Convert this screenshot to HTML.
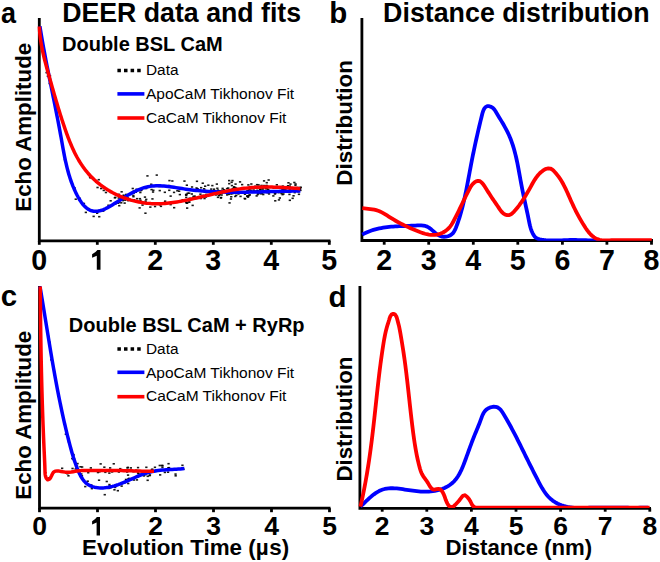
<!DOCTYPE html>
<html><head><meta charset="utf-8"><title>DEER figure</title>
<style>
html,body{margin:0;padding:0;background:#fff;}
body{width:660px;height:562px;overflow:hidden;font-family:"Liberation Sans",sans-serif;}
svg{display:block;}
svg text{font-family:"Liberation Sans",sans-serif;}
.tk1{font-weight:bold;font-size:28.6px;}
.tk2{font-weight:bold;font-size:26.5px;}
</style></head><body>
<svg width="660" height="562" viewBox="0 0 660 562">
<rect width="660" height="562" fill="#fff"/>
<g stroke="#000" stroke-width="2.8" fill="none" stroke-linecap="butt">
<path d="M39.3,18 V240.8 H330.5"/>
<line x1="39.3" y1="240.8" x2="39.3" y2="244.8"/><line x1="97.3" y1="240.8" x2="97.3" y2="244.8"/><line x1="155.3" y1="240.8" x2="155.3" y2="244.8"/><line x1="213.3" y1="240.8" x2="213.3" y2="244.8"/><line x1="271.3" y1="240.8" x2="271.3" y2="244.8"/><line x1="329.3" y1="240.8" x2="329.3" y2="244.8"/>
<path d="M361.9,18 V240.5 H653"/>
<line x1="384.2" y1="240.5" x2="384.2" y2="244.7"/><line x1="428.7" y1="240.5" x2="428.7" y2="244.7"/><line x1="473.3" y1="240.5" x2="473.3" y2="244.7"/><line x1="517.8" y1="240.5" x2="517.8" y2="244.7"/><line x1="562.4" y1="240.5" x2="562.4" y2="244.7"/><line x1="606.9" y1="240.5" x2="606.9" y2="244.7"/><line x1="651.5" y1="240.5" x2="651.5" y2="244.7"/>
<path d="M39.5,286 V508.2 H330.5"/>
<line x1="39.5" y1="508.2" x2="39.5" y2="512.2"/><line x1="97.5" y1="508.2" x2="97.5" y2="512.2"/><line x1="155.5" y1="508.2" x2="155.5" y2="512.2"/><line x1="213.5" y1="508.2" x2="213.5" y2="512.2"/><line x1="271.5" y1="508.2" x2="271.5" y2="512.2"/><line x1="329.5" y1="508.2" x2="329.5" y2="512.2"/>
<path d="M359.9,286 V508.3 H651"/>
<line x1="382.2" y1="508.3" x2="382.2" y2="511.7"/><line x1="426.8" y1="508.3" x2="426.8" y2="511.7"/><line x1="471.4" y1="508.3" x2="471.4" y2="511.7"/><line x1="516.0" y1="508.3" x2="516.0" y2="511.7"/><line x1="560.6" y1="508.3" x2="560.6" y2="511.7"/><line x1="605.2" y1="508.3" x2="605.2" y2="511.7"/><line x1="649.8" y1="508.3" x2="649.8" y2="511.7"/>
</g>
<g fill="#000" fill-opacity="0.9"><rect x="42.4" y="47.2" width="2.3" height="1.6"/><rect x="48.0" y="75.2" width="2.3" height="1.6"/><rect x="48.6" y="82.8" width="2.3" height="1.6"/><rect x="48.8" y="82.2" width="2.3" height="1.6"/><rect x="53.2" y="102.6" width="2.3" height="1.6"/><rect x="59.5" y="134.6" width="2.3" height="1.6"/><rect x="63.7" y="158.7" width="2.3" height="1.6"/><rect x="73.0" y="188.3" width="2.3" height="1.6"/><rect x="73.5" y="187.2" width="2.3" height="1.6"/><rect x="74.6" y="198.4" width="2.3" height="1.6"/><rect x="78.4" y="197.5" width="2.3" height="1.6"/><rect x="78.5" y="198.8" width="2.3" height="1.6"/><rect x="82.8" y="202.7" width="2.3" height="1.6"/><rect x="84.7" y="211.6" width="2.3" height="1.6"/><rect x="90.1" y="210.0" width="2.3" height="1.6"/><rect x="92.5" y="215.6" width="2.3" height="1.6"/><rect x="96.0" y="212.4" width="2.3" height="1.6"/><rect x="97.8" y="209.9" width="2.3" height="1.6"/><rect x="98.1" y="215.9" width="2.3" height="1.6"/><rect x="102.1" y="210.3" width="2.3" height="1.6"/><rect x="107.3" y="204.5" width="2.3" height="1.6"/><rect x="109.5" y="200.0" width="2.3" height="1.6"/><rect x="114.2" y="196.6" width="2.3" height="1.6"/><rect x="114.2" y="203.3" width="2.3" height="1.6"/><rect x="116.7" y="202.3" width="2.3" height="1.6"/><rect x="117.6" y="197.2" width="2.3" height="1.6"/><rect x="117.5" y="201.1" width="2.3" height="1.6"/><rect x="117.8" y="201.8" width="2.3" height="1.6"/><rect x="117.8" y="193.6" width="2.3" height="1.6"/><rect x="118.1" y="204.9" width="2.3" height="1.6"/><rect x="120.1" y="202.0" width="2.3" height="1.6"/><rect x="120.5" y="191.0" width="2.3" height="1.6"/><rect x="121.7" y="199.8" width="2.3" height="1.6"/><rect x="121.8" y="196.8" width="2.3" height="1.6"/><rect x="122.5" y="194.4" width="2.3" height="1.6"/><rect x="122.4" y="195.4" width="2.3" height="1.6"/><rect x="123.5" y="202.3" width="2.3" height="1.6"/><rect x="125.0" y="193.7" width="2.3" height="1.6"/><rect x="127.0" y="199.8" width="2.3" height="1.6"/><rect x="131.6" y="187.7" width="2.3" height="1.6"/><rect x="132.3" y="195.9" width="2.3" height="1.6"/><rect x="132.2" y="194.7" width="2.3" height="1.6"/><rect x="132.7" y="190.3" width="2.3" height="1.6"/><rect x="132.7" y="192.2" width="2.3" height="1.6"/><rect x="133.0" y="199.0" width="2.3" height="1.6"/><rect x="134.7" y="191.4" width="2.3" height="1.6"/><rect x="135.4" y="188.5" width="2.3" height="1.6"/><rect x="139.2" y="189.8" width="2.3" height="1.6"/><rect x="140.1" y="189.5" width="2.3" height="1.6"/><rect x="140.7" y="188.6" width="2.3" height="1.6"/><rect x="143.8" y="196.3" width="2.3" height="1.6"/><rect x="145.0" y="187.7" width="2.3" height="1.6"/><rect x="146.3" y="175.1" width="2.3" height="1.6"/><rect x="150.1" y="183.5" width="2.3" height="1.6"/><rect x="150.4" y="188.8" width="2.3" height="1.6"/><rect x="151.9" y="191.2" width="2.3" height="1.6"/><rect x="152.2" y="189.5" width="2.3" height="1.6"/><rect x="155.6" y="174.3" width="2.3" height="1.6"/><rect x="158.3" y="185.7" width="2.3" height="1.6"/><rect x="158.6" y="189.8" width="2.3" height="1.6"/><rect x="158.7" y="184.7" width="2.3" height="1.6"/><rect x="163.7" y="191.5" width="2.3" height="1.6"/><rect x="168.1" y="189.5" width="2.3" height="1.6"/><rect x="168.0" y="184.8" width="2.3" height="1.6"/><rect x="168.3" y="179.8" width="2.3" height="1.6"/><rect x="171.2" y="180.2" width="2.3" height="1.6"/><rect x="172.9" y="191.6" width="2.3" height="1.6"/><rect x="176.2" y="190.0" width="2.3" height="1.6"/><rect x="178.0" y="190.4" width="2.3" height="1.6"/><rect x="178.7" y="193.8" width="2.3" height="1.6"/><rect x="183.3" y="180.3" width="2.3" height="1.6"/><rect x="184.9" y="194.0" width="2.3" height="1.6"/><rect x="185.1" y="194.4" width="2.3" height="1.6"/><rect x="185.7" y="184.4" width="2.3" height="1.6"/><rect x="190.9" y="186.2" width="2.3" height="1.6"/><rect x="190.7" y="193.2" width="2.3" height="1.6"/><rect x="195.8" y="180.5" width="2.3" height="1.6"/><rect x="196.7" y="188.2" width="2.3" height="1.6"/><rect x="198.7" y="190.0" width="2.3" height="1.6"/><rect x="199.3" y="193.4" width="2.3" height="1.6"/><rect x="199.6" y="196.0" width="2.3" height="1.6"/><rect x="200.2" y="196.6" width="2.3" height="1.6"/><rect x="201.6" y="182.4" width="2.3" height="1.6"/><rect x="202.3" y="194.6" width="2.3" height="1.6"/><rect x="203.0" y="188.0" width="2.3" height="1.6"/><rect x="203.4" y="191.3" width="2.3" height="1.6"/><rect x="203.5" y="189.6" width="2.3" height="1.6"/><rect x="204.0" y="185.4" width="2.3" height="1.6"/><rect x="205.2" y="194.5" width="2.3" height="1.6"/><rect x="205.2" y="193.7" width="2.3" height="1.6"/><rect x="207.2" y="184.4" width="2.3" height="1.6"/><rect x="210.1" y="188.3" width="2.3" height="1.6"/><rect x="211.2" y="184.8" width="2.3" height="1.6"/><rect x="211.9" y="190.5" width="2.3" height="1.6"/><rect x="212.9" y="188.4" width="2.3" height="1.6"/><rect x="215.7" y="183.3" width="2.3" height="1.6"/><rect x="217.0" y="192.3" width="2.3" height="1.6"/><rect x="216.8" y="189.3" width="2.3" height="1.6"/><rect x="216.8" y="196.5" width="2.3" height="1.6"/><rect x="218.8" y="193.8" width="2.3" height="1.6"/><rect x="218.8" y="190.0" width="2.3" height="1.6"/><rect x="221.2" y="189.4" width="2.3" height="1.6"/><rect x="221.5" y="187.6" width="2.3" height="1.6"/><rect x="226.0" y="194.1" width="2.3" height="1.6"/><rect x="225.9" y="187.8" width="2.3" height="1.6"/><rect x="226.1" y="191.0" width="2.3" height="1.6"/><rect x="227.1" y="187.3" width="2.3" height="1.6"/><rect x="227.3" y="190.0" width="2.3" height="1.6"/><rect x="228.4" y="202.1" width="2.3" height="1.6"/><rect x="230.1" y="196.0" width="2.3" height="1.6"/><rect x="229.8" y="198.2" width="2.3" height="1.6"/><rect x="230.0" y="193.1" width="2.3" height="1.6"/><rect x="230.9" y="192.7" width="2.3" height="1.6"/><rect x="231.1" y="188.6" width="2.3" height="1.6"/><rect x="231.7" y="192.6" width="2.3" height="1.6"/><rect x="232.6" y="192.2" width="2.3" height="1.6"/><rect x="233.0" y="186.7" width="2.3" height="1.6"/><rect x="233.0" y="186.1" width="2.3" height="1.6"/><rect x="233.1" y="188.0" width="2.3" height="1.6"/><rect x="233.8" y="192.5" width="2.3" height="1.6"/><rect x="233.6" y="188.5" width="2.3" height="1.6"/><rect x="233.8" y="191.0" width="2.3" height="1.6"/><rect x="233.8" y="190.2" width="2.3" height="1.6"/><rect x="235.1" y="194.6" width="2.3" height="1.6"/><rect x="235.7" y="191.0" width="2.3" height="1.6"/><rect x="235.8" y="192.1" width="2.3" height="1.6"/><rect x="237.3" y="193.1" width="2.3" height="1.6"/><rect x="239.4" y="195.6" width="2.3" height="1.6"/><rect x="241.0" y="183.8" width="2.3" height="1.6"/><rect x="241.4" y="191.7" width="2.3" height="1.6"/><rect x="242.7" y="187.2" width="2.3" height="1.6"/><rect x="243.5" y="197.7" width="2.3" height="1.6"/><rect x="243.8" y="193.4" width="2.3" height="1.6"/><rect x="244.1" y="192.1" width="2.3" height="1.6"/><rect x="244.0" y="198.0" width="2.3" height="1.6"/><rect x="246.0" y="195.2" width="2.3" height="1.6"/><rect x="246.0" y="190.2" width="2.3" height="1.6"/><rect x="246.3" y="195.6" width="2.3" height="1.6"/><rect x="246.9" y="196.3" width="2.3" height="1.6"/><rect x="247.1" y="190.5" width="2.3" height="1.6"/><rect x="247.1" y="195.3" width="2.3" height="1.6"/><rect x="247.7" y="191.4" width="2.3" height="1.6"/><rect x="247.9" y="194.5" width="2.3" height="1.6"/><rect x="247.9" y="191.4" width="2.3" height="1.6"/><rect x="247.7" y="190.3" width="2.3" height="1.6"/><rect x="248.7" y="194.1" width="2.3" height="1.6"/><rect x="250.0" y="189.5" width="2.3" height="1.6"/><rect x="250.2" y="183.2" width="2.3" height="1.6"/><rect x="253.6" y="190.3" width="2.3" height="1.6"/><rect x="254.1" y="185.5" width="2.3" height="1.6"/><rect x="255.8" y="190.4" width="2.3" height="1.6"/><rect x="255.9" y="183.9" width="2.3" height="1.6"/><rect x="256.6" y="193.7" width="2.3" height="1.6"/><rect x="257.4" y="184.1" width="2.3" height="1.6"/><rect x="258.3" y="191.2" width="2.3" height="1.6"/><rect x="258.2" y="192.1" width="2.3" height="1.6"/><rect x="258.6" y="185.8" width="2.3" height="1.6"/><rect x="259.3" y="189.1" width="2.3" height="1.6"/><rect x="259.5" y="193.0" width="2.3" height="1.6"/><rect x="260.4" y="184.7" width="2.3" height="1.6"/><rect x="261.0" y="190.8" width="2.3" height="1.6"/><rect x="261.2" y="188.0" width="2.3" height="1.6"/><rect x="262.2" y="190.3" width="2.3" height="1.6"/><rect x="262.9" y="180.1" width="2.3" height="1.6"/><rect x="263.6" y="191.5" width="2.3" height="1.6"/><rect x="264.1" y="185.4" width="2.3" height="1.6"/><rect x="264.4" y="190.8" width="2.3" height="1.6"/><rect x="264.9" y="187.5" width="2.3" height="1.6"/><rect x="265.1" y="188.0" width="2.3" height="1.6"/><rect x="266.1" y="185.5" width="2.3" height="1.6"/><rect x="266.8" y="188.9" width="2.3" height="1.6"/><rect x="268.5" y="191.2" width="2.3" height="1.6"/><rect x="272.2" y="195.1" width="2.3" height="1.6"/><rect x="273.7" y="191.2" width="2.3" height="1.6"/><rect x="273.7" y="193.1" width="2.3" height="1.6"/><rect x="274.1" y="200.0" width="2.3" height="1.6"/><rect x="274.2" y="192.7" width="2.3" height="1.6"/><rect x="275.7" y="190.0" width="2.3" height="1.6"/><rect x="277.6" y="191.6" width="2.3" height="1.6"/><rect x="277.8" y="199.1" width="2.3" height="1.6"/><rect x="278.0" y="187.3" width="2.3" height="1.6"/><rect x="278.1" y="191.6" width="2.3" height="1.6"/><rect x="278.7" y="197.2" width="2.3" height="1.6"/><rect x="279.8" y="190.6" width="2.3" height="1.6"/><rect x="282.3" y="193.2" width="2.3" height="1.6"/><rect x="282.5" y="188.6" width="2.3" height="1.6"/><rect x="288.3" y="187.7" width="2.3" height="1.6"/><rect x="288.3" y="193.6" width="2.3" height="1.6"/><rect x="288.8" y="188.3" width="2.3" height="1.6"/><rect x="288.7" y="199.5" width="2.3" height="1.6"/><rect x="289.3" y="183.3" width="2.3" height="1.6"/><rect x="291.5" y="197.5" width="2.3" height="1.6"/><rect x="292.4" y="195.0" width="2.3" height="1.6"/><rect x="292.9" y="188.5" width="2.3" height="1.6"/><rect x="294.3" y="190.4" width="2.3" height="1.6"/><rect x="294.3" y="184.5" width="2.3" height="1.6"/><rect x="296.5" y="186.7" width="2.3" height="1.6"/><rect x="297.2" y="190.9" width="2.3" height="1.6"/><rect x="42.1" y="51.1" width="2.3" height="1.6"/><rect x="45.4" y="71.8" width="2.3" height="1.6"/><rect x="46.7" y="75.4" width="2.3" height="1.6"/><rect x="48.9" y="75.1" width="2.3" height="1.6"/><rect x="88.9" y="176.4" width="2.3" height="1.6"/><rect x="89.2" y="177.0" width="2.3" height="1.6"/><rect x="89.4" y="175.1" width="2.3" height="1.6"/><rect x="96.4" y="186.7" width="2.3" height="1.6"/><rect x="97.6" y="178.9" width="2.3" height="1.6"/><rect x="98.6" y="183.1" width="2.3" height="1.6"/><rect x="100.0" y="187.7" width="2.3" height="1.6"/><rect x="102.6" y="189.6" width="2.3" height="1.6"/><rect x="102.8" y="186.7" width="2.3" height="1.6"/><rect x="104.8" y="191.7" width="2.3" height="1.6"/><rect x="109.5" y="191.6" width="2.3" height="1.6"/><rect x="112.4" y="192.4" width="2.3" height="1.6"/><rect x="113.7" y="197.0" width="2.3" height="1.6"/><rect x="119.8" y="195.7" width="2.3" height="1.6"/><rect x="124.1" y="197.4" width="2.3" height="1.6"/><rect x="124.1" y="199.4" width="2.3" height="1.6"/><rect x="126.7" y="197.2" width="2.3" height="1.6"/><rect x="129.4" y="193.5" width="2.3" height="1.6"/><rect x="130.7" y="200.2" width="2.3" height="1.6"/><rect x="135.9" y="197.9" width="2.3" height="1.6"/><rect x="136.3" y="200.9" width="2.3" height="1.6"/><rect x="138.5" y="207.1" width="2.3" height="1.6"/><rect x="138.8" y="197.9" width="2.3" height="1.6"/><rect x="139.3" y="199.5" width="2.3" height="1.6"/><rect x="139.2" y="191.7" width="2.3" height="1.6"/><rect x="141.4" y="204.3" width="2.3" height="1.6"/><rect x="142.1" y="202.1" width="2.3" height="1.6"/><rect x="144.3" y="212.4" width="2.3" height="1.6"/><rect x="144.5" y="200.3" width="2.3" height="1.6"/><rect x="145.1" y="198.6" width="2.3" height="1.6"/><rect x="149.2" y="206.3" width="2.3" height="1.6"/><rect x="150.4" y="203.5" width="2.3" height="1.6"/><rect x="150.9" y="202.5" width="2.3" height="1.6"/><rect x="151.3" y="198.1" width="2.3" height="1.6"/><rect x="151.9" y="203.2" width="2.3" height="1.6"/><rect x="153.9" y="205.7" width="2.3" height="1.6"/><rect x="158.8" y="204.0" width="2.3" height="1.6"/><rect x="159.8" y="205.5" width="2.3" height="1.6"/><rect x="164.0" y="200.4" width="2.3" height="1.6"/><rect x="169.5" y="203.8" width="2.3" height="1.6"/><rect x="169.5" y="195.3" width="2.3" height="1.6"/><rect x="173.0" y="206.9" width="2.3" height="1.6"/><rect x="181.5" y="199.0" width="2.3" height="1.6"/><rect x="185.1" y="201.7" width="2.3" height="1.6"/><rect x="185.1" y="196.6" width="2.3" height="1.6"/><rect x="185.4" y="202.0" width="2.3" height="1.6"/><rect x="185.4" y="193.4" width="2.3" height="1.6"/><rect x="186.0" y="207.3" width="2.3" height="1.6"/><rect x="186.0" y="202.4" width="2.3" height="1.6"/><rect x="186.6" y="192.4" width="2.3" height="1.6"/><rect x="187.6" y="201.2" width="2.3" height="1.6"/><rect x="188.5" y="197.5" width="2.3" height="1.6"/><rect x="188.3" y="201.3" width="2.3" height="1.6"/><rect x="188.1" y="192.4" width="2.3" height="1.6"/><rect x="188.7" y="198.4" width="2.3" height="1.6"/><rect x="191.5" y="204.6" width="2.3" height="1.6"/><rect x="192.3" y="195.6" width="2.3" height="1.6"/><rect x="193.6" y="195.4" width="2.3" height="1.6"/><rect x="193.9" y="197.8" width="2.3" height="1.6"/><rect x="195.8" y="188.2" width="2.3" height="1.6"/><rect x="195.4" y="187.2" width="2.3" height="1.6"/><rect x="199.6" y="197.7" width="2.3" height="1.6"/><rect x="200.0" y="186.9" width="2.3" height="1.6"/><rect x="200.5" y="196.4" width="2.3" height="1.6"/><rect x="202.3" y="196.4" width="2.3" height="1.6"/><rect x="202.5" y="190.1" width="2.3" height="1.6"/><rect x="203.4" y="197.7" width="2.3" height="1.6"/><rect x="204.8" y="196.2" width="2.3" height="1.6"/><rect x="204.8" y="191.5" width="2.3" height="1.6"/><rect x="210.1" y="192.6" width="2.3" height="1.6"/><rect x="214.9" y="194.1" width="2.3" height="1.6"/><rect x="215.9" y="193.3" width="2.3" height="1.6"/><rect x="216.2" y="187.5" width="2.3" height="1.6"/><rect x="217.7" y="194.8" width="2.3" height="1.6"/><rect x="219.7" y="197.1" width="2.3" height="1.6"/><rect x="220.0" y="196.8" width="2.3" height="1.6"/><rect x="220.5" y="192.4" width="2.3" height="1.6"/><rect x="220.5" y="194.2" width="2.3" height="1.6"/><rect x="222.9" y="189.0" width="2.3" height="1.6"/><rect x="227.7" y="193.5" width="2.3" height="1.6"/><rect x="228.1" y="182.9" width="2.3" height="1.6"/><rect x="228.0" y="179.8" width="2.3" height="1.6"/><rect x="229.9" y="190.5" width="2.3" height="1.6"/><rect x="229.7" y="188.9" width="2.3" height="1.6"/><rect x="230.5" y="181.5" width="2.3" height="1.6"/><rect x="230.8" y="184.8" width="2.3" height="1.6"/><rect x="231.0" y="191.0" width="2.3" height="1.6"/><rect x="231.3" y="179.8" width="2.3" height="1.6"/><rect x="231.9" y="187.6" width="2.3" height="1.6"/><rect x="232.2" y="190.7" width="2.3" height="1.6"/><rect x="233.2" y="189.1" width="2.3" height="1.6"/><rect x="233.6" y="189.5" width="2.3" height="1.6"/><rect x="233.6" y="190.9" width="2.3" height="1.6"/><rect x="234.1" y="195.6" width="2.3" height="1.6"/><rect x="234.4" y="183.3" width="2.3" height="1.6"/><rect x="234.4" y="186.9" width="2.3" height="1.6"/><rect x="235.5" y="187.8" width="2.3" height="1.6"/><rect x="238.1" y="191.5" width="2.3" height="1.6"/><rect x="238.9" y="181.1" width="2.3" height="1.6"/><rect x="243.7" y="191.5" width="2.3" height="1.6"/><rect x="244.1" y="187.5" width="2.3" height="1.6"/><rect x="245.8" y="187.6" width="2.3" height="1.6"/><rect x="247.3" y="190.4" width="2.3" height="1.6"/><rect x="247.2" y="184.1" width="2.3" height="1.6"/><rect x="248.2" y="188.5" width="2.3" height="1.6"/><rect x="248.9" y="186.0" width="2.3" height="1.6"/><rect x="249.3" y="185.9" width="2.3" height="1.6"/><rect x="251.5" y="191.5" width="2.3" height="1.6"/><rect x="252.5" y="189.3" width="2.3" height="1.6"/><rect x="252.7" y="186.1" width="2.3" height="1.6"/><rect x="255.5" y="195.1" width="2.3" height="1.6"/><rect x="256.2" y="189.5" width="2.3" height="1.6"/><rect x="256.9" y="190.2" width="2.3" height="1.6"/><rect x="256.9" y="192.4" width="2.3" height="1.6"/><rect x="258.7" y="187.5" width="2.3" height="1.6"/><rect x="259.0" y="188.9" width="2.3" height="1.6"/><rect x="259.1" y="186.5" width="2.3" height="1.6"/><rect x="261.0" y="192.7" width="2.3" height="1.6"/><rect x="262.1" y="193.7" width="2.3" height="1.6"/><rect x="262.1" y="188.1" width="2.3" height="1.6"/><rect x="262.8" y="184.8" width="2.3" height="1.6"/><rect x="263.4" y="190.2" width="2.3" height="1.6"/><rect x="264.4" y="185.5" width="2.3" height="1.6"/><rect x="265.2" y="186.6" width="2.3" height="1.6"/><rect x="265.6" y="187.1" width="2.3" height="1.6"/><rect x="265.6" y="181.9" width="2.3" height="1.6"/><rect x="265.5" y="184.7" width="2.3" height="1.6"/><rect x="266.2" y="187.0" width="2.3" height="1.6"/><rect x="266.3" y="191.9" width="2.3" height="1.6"/><rect x="267.5" y="189.5" width="2.3" height="1.6"/><rect x="267.5" y="179.2" width="2.3" height="1.6"/><rect x="267.9" y="193.1" width="2.3" height="1.6"/><rect x="272.5" y="187.4" width="2.3" height="1.6"/><rect x="275.7" y="184.0" width="2.3" height="1.6"/><rect x="278.6" y="190.1" width="2.3" height="1.6"/><rect x="280.3" y="192.7" width="2.3" height="1.6"/><rect x="281.1" y="191.2" width="2.3" height="1.6"/><rect x="281.4" y="193.8" width="2.3" height="1.6"/><rect x="281.3" y="189.0" width="2.3" height="1.6"/><rect x="281.6" y="185.3" width="2.3" height="1.6"/><rect x="281.6" y="187.7" width="2.3" height="1.6"/><rect x="284.3" y="189.0" width="2.3" height="1.6"/><rect x="285.9" y="187.3" width="2.3" height="1.6"/><rect x="286.8" y="185.0" width="2.3" height="1.6"/><rect x="287.3" y="182.0" width="2.3" height="1.6"/><rect x="288.7" y="185.3" width="2.3" height="1.6"/><rect x="293.2" y="181.7" width="2.3" height="1.6"/><rect x="293.6" y="191.8" width="2.3" height="1.6"/><rect x="294.0" y="187.8" width="2.3" height="1.6"/><rect x="294.4" y="183.2" width="2.3" height="1.6"/><rect x="294.5" y="187.3" width="2.3" height="1.6"/><rect x="297.8" y="193.5" width="2.3" height="1.6"/><rect x="298.6" y="188.9" width="2.3" height="1.6"/><rect x="298.9" y="187.8" width="2.3" height="1.6"/><rect x="299.3" y="189.5" width="2.3" height="1.6"/><rect x="299.6" y="186.6" width="2.3" height="1.6"/><rect x="299.2" y="186.7" width="2.3" height="1.6"/><rect x="41.6" y="303.1" width="2.3" height="1.6"/><rect x="47.3" y="335.7" width="2.3" height="1.6"/><rect x="48.7" y="341.6" width="2.3" height="1.6"/><rect x="50.1" y="359.0" width="2.3" height="1.6"/><rect x="63.1" y="423.2" width="2.3" height="1.6"/><rect x="64.7" y="433.4" width="2.3" height="1.6"/><rect x="67.7" y="440.9" width="2.3" height="1.6"/><rect x="71.1" y="457.8" width="2.3" height="1.6"/><rect x="72.2" y="453.8" width="2.3" height="1.6"/><rect x="72.2" y="454.3" width="2.3" height="1.6"/><rect x="72.5" y="458.1" width="2.3" height="1.6"/><rect x="72.4" y="458.6" width="2.3" height="1.6"/><rect x="73.1" y="458.3" width="2.3" height="1.6"/><rect x="75.1" y="465.5" width="2.3" height="1.6"/><rect x="75.9" y="465.6" width="2.3" height="1.6"/><rect x="76.4" y="468.8" width="2.3" height="1.6"/><rect x="76.4" y="462.8" width="2.3" height="1.6"/><rect x="79.8" y="475.5" width="2.3" height="1.6"/><rect x="80.2" y="473.2" width="2.3" height="1.6"/><rect x="80.8" y="475.0" width="2.3" height="1.6"/><rect x="84.1" y="485.8" width="2.3" height="1.6"/><rect x="86.6" y="480.4" width="2.3" height="1.6"/><rect x="90.1" y="484.2" width="2.3" height="1.6"/><rect x="90.7" y="487.8" width="2.3" height="1.6"/><rect x="94.6" y="486.2" width="2.3" height="1.6"/><rect x="95.3" y="486.5" width="2.3" height="1.6"/><rect x="97.9" y="479.4" width="2.3" height="1.6"/><rect x="101.7" y="487.5" width="2.3" height="1.6"/><rect x="103.6" y="493.9" width="2.3" height="1.6"/><rect x="105.6" y="480.7" width="2.3" height="1.6"/><rect x="107.5" y="487.6" width="2.3" height="1.6"/><rect x="108.3" y="483.8" width="2.3" height="1.6"/><rect x="108.6" y="485.0" width="2.3" height="1.6"/><rect x="108.9" y="486.6" width="2.3" height="1.6"/><rect x="109.1" y="486.7" width="2.3" height="1.6"/><rect x="109.2" y="486.9" width="2.3" height="1.6"/><rect x="111.4" y="485.8" width="2.3" height="1.6"/><rect x="113.3" y="489.0" width="2.3" height="1.6"/><rect x="114.0" y="486.6" width="2.3" height="1.6"/><rect x="116.7" y="489.9" width="2.3" height="1.6"/><rect x="120.5" y="485.3" width="2.3" height="1.6"/><rect x="120.2" y="483.2" width="2.3" height="1.6"/><rect x="123.5" y="482.0" width="2.3" height="1.6"/><rect x="125.0" y="479.0" width="2.3" height="1.6"/><rect x="124.8" y="478.7" width="2.3" height="1.6"/><rect x="127.0" y="478.3" width="2.3" height="1.6"/><rect x="127.1" y="482.7" width="2.3" height="1.6"/><rect x="127.9" y="477.6" width="2.3" height="1.6"/><rect x="132.8" y="479.2" width="2.3" height="1.6"/><rect x="135.8" y="479.1" width="2.3" height="1.6"/><rect x="136.8" y="476.1" width="2.3" height="1.6"/><rect x="137.4" y="473.0" width="2.3" height="1.6"/><rect x="140.1" y="473.4" width="2.3" height="1.6"/><rect x="142.8" y="475.1" width="2.3" height="1.6"/><rect x="145.5" y="472.3" width="2.3" height="1.6"/><rect x="145.2" y="466.5" width="2.3" height="1.6"/><rect x="145.5" y="472.5" width="2.3" height="1.6"/><rect x="146.4" y="471.5" width="2.3" height="1.6"/><rect x="146.5" y="479.5" width="2.3" height="1.6"/><rect x="148.5" y="474.8" width="2.3" height="1.6"/><rect x="148.8" y="474.2" width="2.3" height="1.6"/><rect x="150.7" y="468.8" width="2.3" height="1.6"/><rect x="151.2" y="468.5" width="2.3" height="1.6"/><rect x="154.5" y="470.6" width="2.3" height="1.6"/><rect x="154.9" y="469.6" width="2.3" height="1.6"/><rect x="158.6" y="464.7" width="2.3" height="1.6"/><rect x="159.0" y="474.1" width="2.3" height="1.6"/><rect x="160.3" y="469.5" width="2.3" height="1.6"/><rect x="160.8" y="464.7" width="2.3" height="1.6"/><rect x="161.3" y="466.5" width="2.3" height="1.6"/><rect x="161.4" y="464.8" width="2.3" height="1.6"/><rect x="163.7" y="471.6" width="2.3" height="1.6"/><rect x="166.9" y="471.4" width="2.3" height="1.6"/><rect x="167.2" y="467.0" width="2.3" height="1.6"/><rect x="167.4" y="462.9" width="2.3" height="1.6"/><rect x="167.9" y="466.9" width="2.3" height="1.6"/><rect x="168.5" y="468.5" width="2.3" height="1.6"/><rect x="174.5" y="475.0" width="2.3" height="1.6"/><rect x="174.4" y="473.3" width="2.3" height="1.6"/><rect x="181.0" y="467.6" width="2.3" height="1.6"/><rect x="181.3" y="464.5" width="2.3" height="1.6"/><rect x="181.2" y="467.3" width="2.3" height="1.6"/><rect x="182.3" y="468.4" width="2.3" height="1.6"/><rect x="47.6" y="477.2" width="2.3" height="1.6"/><rect x="53.6" y="470.9" width="2.3" height="1.6"/><rect x="61.0" y="467.5" width="2.3" height="1.6"/><rect x="66.3" y="473.0" width="2.3" height="1.6"/><rect x="67.3" y="475.0" width="2.3" height="1.6"/><rect x="71.4" y="467.7" width="2.3" height="1.6"/><rect x="74.6" y="468.1" width="2.3" height="1.6"/><rect x="77.0" y="470.8" width="2.3" height="1.6"/><rect x="78.8" y="469.0" width="2.3" height="1.6"/><rect x="79.3" y="466.0" width="2.3" height="1.6"/><rect x="81.0" y="466.2" width="2.3" height="1.6"/><rect x="87.1" y="471.9" width="2.3" height="1.6"/><rect x="89.7" y="467.1" width="2.3" height="1.6"/><rect x="96.8" y="471.7" width="2.3" height="1.6"/><rect x="98.3" y="471.0" width="2.3" height="1.6"/><rect x="99.5" y="463.1" width="2.3" height="1.6"/><rect x="101.3" y="469.0" width="2.3" height="1.6"/><rect x="103.2" y="466.4" width="2.3" height="1.6"/><rect x="104.2" y="471.5" width="2.3" height="1.6"/><rect x="106.0" y="469.0" width="2.3" height="1.6"/><rect x="108.2" y="472.3" width="2.3" height="1.6"/><rect x="108.4" y="469.4" width="2.3" height="1.6"/><rect x="109.0" y="467.1" width="2.3" height="1.6"/><rect x="111.0" y="471.1" width="2.3" height="1.6"/><rect x="111.4" y="469.3" width="2.3" height="1.6"/><rect x="112.6" y="463.0" width="2.3" height="1.6"/><rect x="115.2" y="470.0" width="2.3" height="1.6"/><rect x="117.7" y="471.2" width="2.3" height="1.6"/><rect x="119.1" y="467.9" width="2.3" height="1.6"/><rect x="124.1" y="469.1" width="2.3" height="1.6"/><rect x="126.0" y="471.2" width="2.3" height="1.6"/><rect x="126.3" y="467.1" width="2.3" height="1.6"/><rect x="126.7" y="466.6" width="2.3" height="1.6"/><rect x="126.9" y="474.3" width="2.3" height="1.6"/><rect x="127.4" y="470.1" width="2.3" height="1.6"/><rect x="129.3" y="470.2" width="2.3" height="1.6"/><rect x="129.7" y="467.1" width="2.3" height="1.6"/><rect x="131.5" y="470.5" width="2.3" height="1.6"/><rect x="132.3" y="470.7" width="2.3" height="1.6"/><rect x="135.0" y="469.4" width="2.3" height="1.6"/><rect x="136.9" y="472.2" width="2.3" height="1.6"/><rect x="136.9" y="466.8" width="2.3" height="1.6"/><rect x="141.9" y="470.4" width="2.3" height="1.6"/><rect x="141.9" y="471.7" width="2.3" height="1.6"/><rect x="144.3" y="473.9" width="2.3" height="1.6"/><rect x="146.6" y="475.5" width="2.3" height="1.6"/><rect x="150.3" y="471.4" width="2.3" height="1.6"/><rect x="153.8" y="466.5" width="2.3" height="1.6"/></g>
<g fill="none" stroke-width="3.5" stroke-linejoin="round" stroke-linecap="butt">
<path stroke="#0000ff" d="M39.92,26.39 L40.24,28.38 L40.56,30.36 L40.89,32.35 L41.22,34.33 L41.56,36.31 L41.90,38.30 L42.25,40.28 L42.60,42.26 L42.95,44.24 L43.31,46.22 L43.67,48.20 L44.03,50.18 L44.40,52.15 L44.77,54.13 L45.14,56.11 L45.52,58.08 L45.89,60.06 L46.28,62.04 L46.66,64.01 L47.04,65.98 L47.43,67.96 L47.82,69.93 L48.21,71.91 L48.60,73.88 L48.99,75.85 L49.39,77.83 L49.78,79.80 L50.18,81.77 L50.58,83.74 L50.97,85.71 L51.37,87.69 L51.77,89.66 L52.17,91.63 L52.57,93.60 L52.96,95.57 L53.36,97.55 L53.76,99.52 L54.15,101.49 L54.55,103.46 L54.94,105.43 L55.34,107.41 L55.73,109.38 L56.12,111.35 L56.51,113.33 L56.90,115.30 L57.28,117.28 L57.67,119.25 L58.05,121.23 L58.43,123.20 L58.80,125.18 L59.18,127.15 L59.55,129.13 L59.92,131.11 L60.28,133.09 L60.64,135.07 L61.00,137.05 L61.36,139.03 L61.71,141.01 L62.06,142.99 L62.41,144.97 L62.77,146.95 L63.12,148.93 L63.49,150.91 L63.86,152.88 L64.24,154.86 L64.63,156.83 L65.04,158.80 L65.45,160.77 L65.89,162.73 L66.34,164.70 L66.81,166.65 L67.29,168.60 L67.80,170.55 L68.34,172.49 L68.90,174.42 L69.48,176.35 L70.09,178.26 L70.73,180.17 L71.40,182.07 L72.10,183.95 L72.83,185.83 L73.60,187.69 L74.40,189.53 L75.23,191.36 L76.10,193.18 L77.00,194.98 L77.94,196.75 L78.93,198.51 L79.97,200.23 L81.08,201.91 L82.25,203.54 L83.52,205.10 L84.89,206.57 L86.38,207.92 L88.01,209.11 L89.77,210.08 L91.65,210.78 L93.62,211.19 L95.62,211.31 L97.63,211.18 L99.61,210.83 L101.55,210.29 L103.43,209.60 L105.28,208.79 L107.08,207.89 L108.84,206.93 L110.59,205.93 L112.32,204.90 L114.04,203.85 L115.75,202.79 L117.45,201.73 L119.15,200.65 L120.85,199.58 L122.56,198.51 L124.27,197.45 L125.98,196.40 L127.71,195.36 L129.44,194.35 L131.20,193.36 L132.97,192.41 L134.76,191.49 L136.57,190.62 L138.41,189.80 L140.27,189.03 L142.16,188.34 L144.07,187.71 L146.01,187.17 L147.97,186.72 L149.95,186.37 L151.94,186.11 L153.94,185.93 L155.95,185.84 L157.96,185.81 L159.98,185.85 L161.99,185.95 L163.99,186.09 L165.99,186.28 L167.99,186.50 L169.99,186.75 L171.98,187.03 L173.97,187.32 L175.96,187.62 L177.95,187.94 L179.94,188.25 L181.92,188.57 L183.91,188.87 L185.90,189.16 L187.89,189.44 L189.89,189.70 L191.88,189.95 L193.88,190.18 L195.88,190.40 L197.88,190.60 L199.89,190.79 L201.89,190.97 L203.90,191.13 L205.90,191.28 L207.91,191.42 L209.92,191.55 L211.92,191.66 L213.93,191.76 L215.94,191.86 L217.95,191.94 L219.96,192.01 L221.97,192.07 L223.99,192.12 L226.00,192.16 L228.01,192.20 L230.02,192.22 L232.03,192.24 L234.04,192.25 L236.05,192.25 L238.07,192.25 L240.08,192.24 L242.09,192.22 L244.10,192.20 L246.11,192.17 L248.12,192.14 L250.14,192.10 L252.15,192.06 L254.16,192.02 L256.17,191.98 L258.18,191.93 L260.19,191.88 L262.20,191.82 L264.21,191.77 L266.22,191.72 L268.23,191.66 L270.25,191.61 L272.26,191.55 L274.27,191.50 L276.28,191.45 L278.29,191.40 L280.30,191.35 L282.31,191.30 L284.32,191.26 L286.33,191.22 L288.35,191.19 L290.36,191.15 L292.37,191.12 L294.38,191.10 L296.39,191.08 L298.40,191.07 L300.41,191.06"/>
<path stroke="#ff0000" d="M39.38,26.46 L39.47,28.48 L39.59,30.49 L39.75,32.49 L39.94,34.50 L40.16,36.50 L40.41,38.50 L40.69,40.50 L41.00,42.49 L41.33,44.47 L41.69,46.46 L42.07,48.43 L42.47,50.41 L42.90,52.38 L43.34,54.34 L43.79,56.31 L44.27,58.26 L44.75,60.22 L45.25,62.17 L45.76,64.12 L46.28,66.06 L46.81,68.01 L47.35,69.95 L47.89,71.89 L48.44,73.83 L48.98,75.77 L49.53,77.71 L50.08,79.64 L50.63,81.58 L51.18,83.52 L51.73,85.46 L52.28,87.40 L52.83,89.33 L53.39,91.27 L53.95,93.21 L54.50,95.14 L55.07,97.08 L55.63,99.01 L56.20,100.94 L56.77,102.87 L57.34,104.81 L57.92,106.73 L58.51,108.66 L59.10,110.59 L59.69,112.51 L60.29,114.44 L60.90,116.36 L61.51,118.28 L62.13,120.19 L62.76,122.11 L63.39,124.02 L64.03,125.93 L64.68,127.84 L65.33,129.74 L66.00,131.64 L66.68,133.54 L67.37,135.43 L68.07,137.32 L68.79,139.20 L69.53,141.08 L70.29,142.94 L71.07,144.80 L71.86,146.65 L72.68,148.49 L73.53,150.32 L74.40,152.14 L75.30,153.94 L76.23,155.73 L77.18,157.50 L78.17,159.25 L79.20,160.99 L80.25,162.70 L81.35,164.40 L82.47,166.07 L83.64,167.71 L84.84,169.32 L86.09,170.91 L87.37,172.46 L88.69,173.98 L90.05,175.47 L91.45,176.92 L92.88,178.34 L94.34,179.72 L95.84,181.07 L97.37,182.38 L98.93,183.65 L100.52,184.89 L102.14,186.09 L103.78,187.26 L105.45,188.38 L107.14,189.48 L108.86,190.53 L110.60,191.54 L112.36,192.52 L114.15,193.46 L115.95,194.36 L117.77,195.22 L119.61,196.03 L121.47,196.81 L123.34,197.55 L125.23,198.25 L127.14,198.91 L129.05,199.52 L130.99,200.10 L132.93,200.63 L134.88,201.12 L136.85,201.57 L138.82,201.98 L140.80,202.34 L142.79,202.66 L144.78,202.95 L146.78,203.19 L148.79,203.38 L150.80,203.54 L152.81,203.65 L154.82,203.72 L156.84,203.75 L158.85,203.73 L160.86,203.67 L162.88,203.58 L164.89,203.44 L166.89,203.27 L168.90,203.07 L170.90,202.84 L172.90,202.57 L174.89,202.28 L176.88,201.97 L178.86,201.63 L180.85,201.28 L182.83,200.90 L184.80,200.51 L186.78,200.11 L188.75,199.69 L190.72,199.26 L192.68,198.83 L194.65,198.38 L196.61,197.94 L198.57,197.48 L200.54,197.03 L202.50,196.57 L204.46,196.11 L206.42,195.64 L208.38,195.18 L210.34,194.73 L212.30,194.27 L214.27,193.82 L216.23,193.37 L218.20,192.93 L220.17,192.50 L222.14,192.08 L224.11,191.67 L226.08,191.27 L228.06,190.88 L230.04,190.50 L232.02,190.14 L234.00,189.80 L235.99,189.47 L237.98,189.16 L239.98,188.87 L241.97,188.60 L243.97,188.35 L245.97,188.12 L247.98,187.92 L249.98,187.74 L251.99,187.59 L254.00,187.45 L256.01,187.34 L258.03,187.25 L260.04,187.17 L262.05,187.12 L264.07,187.08 L266.08,187.06 L268.10,187.06 L270.11,187.07 L272.12,187.09 L274.14,187.14 L276.15,187.19 L278.17,187.26 L280.18,187.34 L282.19,187.43 L284.20,187.53 L286.21,187.64 L288.22,187.76 L290.23,187.89 L292.24,188.03 L294.25,188.18 L296.26,188.33 L298.27,188.49 L300.28,188.66"/>
<defs><clipPath id="cb"><rect x="330" y="0" width="330" height="240.8"/></clipPath><clipPath id="cd"><rect x="330" y="270" width="330" height="238"/></clipPath></defs>
<g clip-path="url(#cb)">
<path stroke="#0000ff" stroke-width="3.8" d="M362.30,234.60 L364.07,233.65 L365.88,232.76 L367.71,231.95 L369.58,231.20 L371.47,230.52 L373.39,229.90 L375.32,229.35 L377.27,228.85 L379.23,228.41 L381.20,228.02 L383.18,227.68 L385.17,227.38 L387.16,227.13 L389.16,226.91 L391.16,226.72 L393.17,226.56 L395.17,226.43 L397.18,226.31 L399.19,226.22 L401.20,226.13 L403.21,226.06 L405.21,225.98 L407.22,225.91 L409.23,225.84 L411.24,225.76 L413.25,225.67 L415.26,225.57 L417.26,225.45 L419.27,225.38 L421.28,225.40 L423.29,225.57 L425.26,225.96 L427.15,226.64 L428.90,227.61 L430.52,228.80 L432.05,230.11 L433.55,231.45 L435.06,232.78 L436.63,234.03 L438.31,235.13 L440.12,236.00 L442.05,236.55 L444.05,236.77 L446.05,236.67 L448.02,236.26 L449.89,235.53 L451.59,234.46 L453.02,233.06 L454.18,231.41 L455.12,229.64 L455.91,227.79 L456.63,225.91 L457.32,224.02 L457.98,222.13 L458.62,220.22 L459.24,218.31 L459.84,216.39 L460.41,214.46 L460.97,212.53 L461.50,210.59 L462.02,208.65 L462.52,206.70 L463.01,204.75 L463.48,202.80 L463.94,200.84 L464.38,198.88 L464.82,196.92 L465.24,194.95 L465.65,192.98 L466.05,191.01 L466.45,189.04 L466.83,187.07 L467.21,185.10 L467.59,183.12 L467.96,181.15 L468.33,179.17 L468.70,177.19 L469.06,175.22 L469.43,173.24 L469.79,171.26 L470.16,169.29 L470.53,167.31 L470.90,165.33 L471.28,163.36 L471.67,161.39 L472.05,159.41 L472.45,157.44 L472.84,155.47 L473.24,153.50 L473.65,151.53 L474.06,149.56 L474.47,147.60 L474.89,145.63 L475.32,143.67 L475.75,141.70 L476.18,139.74 L476.62,137.78 L477.06,135.82 L477.50,133.86 L477.95,131.90 L478.41,129.94 L478.87,127.98 L479.33,126.02 L479.79,124.07 L480.26,122.11 L480.74,120.16 L481.22,118.21 L481.70,116.26 L482.19,114.31 L482.72,112.37 L483.37,110.46 L484.23,108.65 L485.48,107.08 L487.24,106.18 L489.24,106.21 L491.14,106.86 L492.83,107.93 L494.24,109.37 L495.38,111.02 L496.41,112.75 L497.44,114.47 L498.48,116.19 L499.52,117.91 L500.56,119.63 L501.59,121.36 L502.62,123.09 L503.63,124.82 L504.63,126.57 L505.60,128.33 L506.54,130.10 L507.46,131.89 L508.33,133.70 L509.17,135.53 L509.96,137.38 L510.71,139.25 L511.42,141.13 L512.09,143.02 L512.73,144.93 L513.34,146.84 L513.91,148.77 L514.45,150.71 L514.97,152.65 L515.46,154.60 L515.93,156.55 L516.38,158.51 L516.81,160.48 L517.23,162.44 L517.63,164.41 L518.01,166.39 L518.39,168.36 L518.76,170.34 L519.12,172.31 L519.48,174.29 L519.84,176.27 L520.19,178.25 L520.55,180.23 L520.91,182.21 L521.28,184.18 L521.66,186.16 L522.04,188.13 L522.44,190.10 L522.84,192.07 L523.25,194.04 L523.66,196.01 L524.08,197.97 L524.51,199.94 L524.93,201.90 L525.36,203.87 L525.79,205.83 L526.22,207.79 L526.64,209.76 L527.07,211.72 L527.48,213.69 L527.90,215.66 L528.30,217.63 L528.70,219.60 L529.10,221.57 L529.51,223.54 L529.96,225.50 L530.47,227.44 L531.05,229.36 L531.74,231.25 L532.55,233.09 L533.50,234.86 L534.64,236.52 L536.08,237.90 L537.88,238.80 L539.82,239.32 L541.79,239.69 L543.78,239.99 L545.78,240.20 L547.78,240.36 L549.79,240.46 L551.80,240.51 L553.81,240.52 L555.82,240.49 L557.83,240.44 L559.84,240.38 L561.85,240.30 L563.86,240.22 L565.87,240.14 L567.88,240.07 L569.89,240.02 L571.90,239.99 L573.91,239.99 L575.92,240.01 L577.93,240.05 L579.94,240.10 L581.95,240.15 L583.96,240.21 L585.97,240.26 L587.98,240.31 L589.99,240.34 L592.00,240.35 L594.01,240.34 L596.02,240.30 L598.03,240.22 L600.03,240.11"/>
<path stroke="#ff0000" stroke-width="3.8" d="M362.30,208.21 L364.30,208.42 L366.30,208.62 L368.30,208.82 L370.30,209.05 L372.29,209.34 L374.27,209.71 L376.22,210.18 L378.14,210.79 L380.01,211.54 L381.82,212.40 L383.59,213.36 L385.33,214.38 L387.04,215.44 L388.73,216.53 L390.42,217.62 L392.12,218.69 L393.84,219.73 L395.58,220.75 L397.33,221.73 L399.10,222.69 L400.89,223.62 L402.68,224.53 L404.49,225.41 L406.31,226.27 L408.14,227.11 L409.97,227.94 L411.81,228.75 L413.66,229.55 L415.51,230.34 L417.37,231.10 L419.24,231.84 L421.13,232.54 L423.04,233.17 L424.97,233.74 L426.92,234.23 L428.89,234.61 L430.89,234.86 L432.90,234.97 L434.91,234.91 L436.90,234.66 L438.86,234.20 L440.77,233.56 L442.60,232.74 L444.36,231.75 L446.01,230.61 L447.56,229.33 L448.99,227.92 L450.29,226.37 L451.45,224.73 L452.50,223.02 L453.48,221.26 L454.42,219.48 L455.34,217.69 L456.24,215.90 L457.14,214.10 L458.03,212.29 L458.91,210.48 L459.78,208.67 L460.66,206.86 L461.53,205.04 L462.40,203.23 L463.27,201.42 L464.14,199.60 L465.02,197.79 L465.91,195.99 L466.80,194.18 L467.70,192.39 L468.61,190.59 L469.54,188.81 L470.53,187.06 L471.64,185.38 L472.92,183.83 L474.41,182.49 L476.13,181.44 L478.05,180.88 L480.00,181.24 L481.63,182.42 L482.94,183.94 L484.10,185.58 L485.20,187.27 L486.29,188.96 L487.36,190.66 L488.44,192.36 L489.52,194.05 L490.61,195.75 L491.71,197.43 L492.82,199.10 L493.96,200.76 L495.11,202.42 L496.26,204.07 L497.39,205.73 L498.51,207.40 L499.62,209.08 L500.78,210.72 L502.07,212.27 L503.57,213.60 L505.31,214.60 L507.25,215.14 L509.24,215.04 L511.07,214.23 L512.65,212.98 L514.06,211.55 L515.40,210.05 L516.70,208.51 L517.96,206.95 L519.19,205.35 L520.37,203.73 L521.53,202.08 L522.65,200.41 L523.74,198.72 L524.81,197.01 L525.85,195.29 L526.87,193.56 L527.88,191.82 L528.87,190.07 L529.85,188.31 L530.83,186.55 L531.80,184.79 L532.78,183.03 L533.80,181.30 L534.85,179.58 L535.96,177.90 L537.14,176.28 L538.42,174.72 L539.79,173.25 L541.26,171.88 L542.85,170.65 L544.55,169.57 L546.38,168.75 L548.34,168.33 L550.34,168.53 L552.12,169.44 L553.63,170.77 L555.00,172.24 L556.32,173.76 L557.58,175.32 L558.79,176.93 L559.94,178.58 L561.03,180.27 L562.07,182.00 L563.06,183.75 L564.00,185.53 L564.91,187.32 L565.79,189.13 L566.64,190.96 L567.47,192.79 L568.29,194.62 L569.10,196.47 L569.91,198.31 L570.72,200.15 L571.54,201.98 L572.38,203.81 L573.23,205.64 L574.09,207.46 L574.97,209.26 L575.87,211.07 L576.78,212.86 L577.72,214.64 L578.67,216.41 L579.64,218.17 L580.64,219.92 L581.65,221.66 L582.69,223.38 L583.75,225.09 L584.83,226.79 L585.94,228.47 L587.09,230.12 L588.30,231.73 L589.58,233.28 L590.95,234.75 L592.43,236.11 L594.03,237.34 L595.75,238.38 L597.58,239.19 L599.51,239.76 L601.49,240.12 L603.49,240.32 L605.50,240.40 L607.51,240.39 L609.52,240.33 L611.53,240.25 L613.54,240.16 L615.56,240.11 L617.57,240.09 L619.58,240.11 L621.59,240.14 L623.60,240.18 L625.61,240.22 L627.63,240.24 L629.64,240.25 L631.65,240.25 L633.66,240.24 L635.67,240.23 L637.69,240.21 L639.70,240.19 L641.71,240.18 L643.72,240.17 L645.73,240.17 L647.74,240.17 L649.76,240.19 L651.77,240.22"/>
</g>
<path stroke="#0000ff" d="M39.99,286.57 L40.33,288.57 L40.67,290.56 L41.00,292.56 L41.34,294.55 L41.67,296.55 L42.01,298.55 L42.34,300.54 L42.67,302.54 L43.00,304.54 L43.32,306.53 L43.65,308.53 L43.98,310.53 L44.30,312.53 L44.63,314.52 L44.95,316.52 L45.28,318.52 L45.60,320.52 L45.93,322.51 L46.25,324.51 L46.58,326.51 L46.90,328.51 L47.23,330.51 L47.55,332.50 L47.88,334.50 L48.20,336.50 L48.53,338.50 L48.86,340.49 L49.19,342.49 L49.52,344.49 L49.85,346.48 L50.18,348.48 L50.51,350.48 L50.85,352.47 L51.19,354.47 L51.52,356.46 L51.86,358.46 L52.20,360.45 L52.55,362.45 L52.89,364.44 L53.24,366.44 L53.59,368.43 L53.94,370.42 L54.30,372.42 L54.65,374.41 L55.01,376.40 L55.38,378.39 L55.74,380.38 L56.11,382.37 L56.48,384.36 L56.86,386.35 L57.23,388.34 L57.61,390.33 L58.00,392.31 L58.39,394.30 L58.78,396.29 L59.17,398.27 L59.57,400.25 L59.98,402.24 L60.38,404.22 L60.79,406.20 L61.21,408.18 L61.63,410.16 L62.05,412.14 L62.48,414.12 L62.92,416.10 L63.35,418.07 L63.80,420.05 L64.24,422.02 L64.70,423.99 L65.16,425.96 L65.62,427.94 L66.09,429.90 L66.56,431.87 L67.04,433.84 L67.53,435.80 L68.02,437.77 L68.51,439.73 L69.02,441.69 L69.53,443.65 L70.04,445.60 L70.56,447.56 L71.10,449.51 L71.64,451.46 L72.20,453.41 L72.77,455.35 L73.36,457.29 L73.97,459.21 L74.60,461.14 L75.25,463.05 L75.93,464.96 L76.64,466.86 L77.36,468.75 L78.13,470.62 L78.93,472.48 L79.80,474.31 L80.73,476.10 L81.75,477.85 L82.88,479.53 L84.13,481.12 L85.53,482.58 L87.08,483.88 L88.77,485.00 L90.57,485.92 L92.46,486.64 L94.40,487.19 L96.39,487.57 L98.40,487.81 L100.42,487.91 L102.45,487.89 L104.46,487.76 L106.48,487.54 L108.48,487.23 L110.46,486.84 L112.43,486.38 L114.39,485.86 L116.33,485.27 L118.24,484.63 L120.15,483.94 L122.03,483.20 L123.91,482.44 L125.77,481.64 L127.62,480.83 L129.47,480.00 L131.31,479.16 L133.15,478.33 L135.00,477.50 L136.85,476.68 L138.71,475.89 L140.59,475.12 L142.47,474.39 L144.38,473.71 L146.30,473.07 L148.24,472.50 L150.20,471.99 L152.18,471.55 L154.16,471.17 L156.16,470.84 L158.16,470.56 L160.17,470.32 L162.19,470.11 L164.20,469.93 L166.22,469.78 L168.24,469.64 L170.26,469.52 L172.28,469.40 L174.30,469.29 L176.32,469.17 L178.34,469.04 L180.36,468.90 L182.38,468.73 L184.39,468.54"/>
<path stroke="#ff0000" d="M40.27,286.50 L40.28,288.53 L40.30,290.55 L40.31,292.57 L40.32,294.59 L40.34,296.61 L40.35,298.64 L40.37,300.66 L40.39,302.68 L40.41,304.70 L40.42,306.73 L40.44,308.75 L40.46,310.77 L40.48,312.79 L40.51,314.81 L40.53,316.84 L40.55,318.86 L40.57,320.88 L40.60,322.90 L40.62,324.93 L40.65,326.95 L40.68,328.97 L40.70,330.99 L40.73,333.01 L40.76,335.04 L40.79,337.06 L40.82,339.08 L40.86,341.10 L40.89,343.12 L40.92,345.15 L40.96,347.17 L40.99,349.19 L41.03,351.21 L41.07,353.23 L41.10,355.26 L41.14,357.28 L41.18,359.30 L41.22,361.32 L41.27,363.34 L41.31,365.37 L41.35,367.39 L41.40,369.41 L41.44,371.43 L41.49,373.45 L41.54,375.48 L41.59,377.50 L41.64,379.52 L41.69,381.54 L41.74,383.56 L41.79,385.58 L41.85,387.60 L41.90,389.63 L41.96,391.65 L42.02,393.67 L42.08,395.69 L42.14,397.71 L42.20,399.73 L42.26,401.76 L42.32,403.78 L42.39,405.80 L42.45,407.82 L42.52,409.84 L42.59,411.86 L42.66,413.88 L42.73,415.90 L42.80,417.92 L42.87,419.95 L42.95,421.97 L43.02,423.99 L43.10,426.01 L43.18,428.03 L43.26,430.05 L43.34,432.07 L43.42,434.09 L43.50,436.11 L43.59,438.13 L43.67,440.15 L43.76,442.17 L43.85,444.19 L43.94,446.21 L44.03,448.23 L44.12,450.25 L44.22,452.27 L44.31,454.29 L44.41,456.31 L44.50,458.33 L44.59,460.36 L44.68,462.38 L44.76,464.40 L44.84,466.42 L44.91,468.44 L44.97,470.46 L45.03,472.48 L45.18,474.50 L45.56,476.48 L46.29,478.36 L47.63,479.81 L49.45,479.17 L50.67,477.57 L51.56,475.75 L52.40,473.91 L53.48,472.21 L55.16,471.13 L57.17,470.90 L59.18,471.11 L61.17,471.46 L63.15,471.83 L65.15,472.13 L67.17,472.28 L69.19,472.21 L71.20,471.97 L73.20,471.65 L75.19,471.31 L77.19,471.01 L79.20,470.79 L81.21,470.62 L83.23,470.51 L85.25,470.43 L87.28,470.40 L89.30,470.39 L91.32,470.40 L93.34,470.41 L95.37,470.42 L97.39,470.43 L99.41,470.44 L101.43,470.44 L103.45,470.44 L105.48,470.44 L107.50,470.44 L109.52,470.44 L111.54,470.45 L113.57,470.46 L115.59,470.48 L117.61,470.51 L119.63,470.54 L121.65,470.58 L123.68,470.63 L125.70,470.69 L127.72,470.74 L129.74,470.80 L131.76,470.87 L133.78,470.93 L135.80,471.00 L137.83,471.06 L139.85,471.12 L141.87,471.17 L143.89,471.23 L145.91,471.27 L147.93,471.31 L149.96,471.34 L151.98,471.35 L154.00,471.36"/>
<g clip-path="url(#cd)">
<path stroke="#0000ff" stroke-width="3.8" d="M360.45,506.47 L361.95,505.12 L363.43,503.74 L364.89,502.35 L366.35,500.96 L367.82,499.58 L369.31,498.21 L370.82,496.88 L372.37,495.58 L373.96,494.34 L375.60,493.16 L377.29,492.06 L379.05,491.07 L380.87,490.21 L382.76,489.50 L384.70,488.96 L386.68,488.58 L388.69,488.34 L390.70,488.23 L392.72,488.22 L394.74,488.31 L396.75,488.46 L398.75,488.67 L400.76,488.93 L402.75,489.21 L404.75,489.51 L406.75,489.81 L408.74,490.12 L410.74,490.41 L412.74,490.69 L414.74,490.95 L416.74,491.18 L418.75,491.37 L420.76,491.53 L422.78,491.63 L424.79,491.68 L426.81,491.67 L428.83,491.58 L430.84,491.43 L432.84,491.19 L434.84,490.86 L436.81,490.46 L438.77,489.97 L440.70,489.38 L442.60,488.71 L444.47,487.94 L446.28,487.06 L448.05,486.08 L449.75,485.00 L451.37,483.80 L452.90,482.48 L454.33,481.06 L455.65,479.54 L456.87,477.93 L458.00,476.26 L459.04,474.53 L460.01,472.76 L460.91,470.95 L461.75,469.12 L462.55,467.26 L463.31,465.39 L464.04,463.51 L464.75,461.62 L465.44,459.73 L466.13,457.83 L466.82,455.94 L467.51,454.04 L468.20,452.14 L468.88,450.24 L469.57,448.35 L470.27,446.45 L470.97,444.56 L471.68,442.67 L472.39,440.79 L473.12,438.90 L473.86,437.02 L474.61,435.15 L475.37,433.28 L476.14,431.42 L476.92,429.55 L477.69,427.69 L478.45,425.82 L479.20,423.95 L479.92,422.06 L480.63,420.17 L481.31,418.27 L482.01,416.38 L482.79,414.52 L483.73,412.74 L484.89,411.08 L486.30,409.65 L487.95,408.48 L489.76,407.60 L491.68,407.01 L493.68,406.74 L495.69,406.86 L497.62,407.44 L499.31,408.53 L500.73,409.96 L501.95,411.56 L503.05,413.26 L504.10,414.98 L505.13,416.71 L506.16,418.45 L507.17,420.20 L508.16,421.95 L509.15,423.71 L510.13,425.48 L511.09,427.25 L512.04,429.03 L512.99,430.81 L513.93,432.60 L514.86,434.39 L515.78,436.19 L516.70,437.98 L517.61,439.79 L518.51,441.59 L519.41,443.39 L520.31,445.20 L521.21,447.01 L522.10,448.82 L522.99,450.63 L523.88,452.44 L524.77,454.25 L525.67,456.06 L526.56,457.87 L527.46,459.68 L528.36,461.48 L529.26,463.29 L530.16,465.10 L531.06,466.90 L531.97,468.70 L532.87,470.50 L533.79,472.31 L534.70,474.11 L535.61,475.90 L536.53,477.70 L537.45,479.49 L538.38,481.29 L539.31,483.08 L540.27,484.86 L541.25,486.62 L542.26,488.36 L543.32,490.08 L544.43,491.77 L545.60,493.41 L546.85,495.00 L548.17,496.52 L549.57,497.97 L551.06,499.33 L552.64,500.59 L554.30,501.73 L556.03,502.77 L557.82,503.70 L559.66,504.53 L561.54,505.26 L563.46,505.89 L565.41,506.42 L567.37,506.87 L569.36,507.22 L571.36,507.49 L573.37,507.68 L575.38,507.81 L577.40,507.89 L579.42,507.92 L581.44,507.92 L583.45,507.89 L585.47,507.84 L587.49,507.78 L589.50,507.72 L591.52,507.68 L593.54,507.64 L595.56,507.61 L597.58,507.59 L599.59,507.58 L601.61,507.57 L603.63,507.57 L605.65,507.57 L607.66,507.58 L609.68,507.60 L611.70,507.62 L613.72,507.63 L615.74,507.66 L617.75,507.68 L619.77,507.70 L621.79,507.72 L623.81,507.74 L625.83,507.76 L627.84,507.77 L629.86,507.78 L631.88,507.79 L633.90,507.79 L635.91,507.79 L637.93,507.78 L639.95,507.76 L641.97,507.73 L643.99,507.70 L646.00,507.66 L648.02,507.60"/>
<path stroke="#ff0000" stroke-width="3.8" d="M360.40,506.60 L360.86,504.64 L361.30,502.68 L361.74,500.72 L362.17,498.75 L362.59,496.79 L363.00,494.82 L363.40,492.85 L363.80,490.88 L364.19,488.91 L364.57,486.93 L364.94,484.96 L365.31,482.98 L365.67,481.00 L366.02,479.03 L366.37,477.04 L366.71,475.06 L367.04,473.08 L367.37,471.10 L367.69,469.11 L368.01,467.13 L368.32,465.14 L368.62,463.16 L368.92,461.17 L369.21,459.18 L369.50,457.19 L369.79,455.20 L370.06,453.21 L370.34,451.22 L370.61,449.23 L370.87,447.23 L371.13,445.24 L371.39,443.25 L371.65,441.25 L371.89,439.26 L372.14,437.26 L372.38,435.27 L372.62,433.27 L372.86,431.28 L373.09,429.28 L373.33,427.28 L373.55,425.29 L373.78,423.29 L374.00,421.29 L374.23,419.29 L374.45,417.30 L374.67,415.30 L374.88,413.30 L375.10,411.30 L375.32,409.30 L375.53,407.30 L375.75,405.31 L375.96,403.31 L376.18,401.31 L376.39,399.31 L376.61,397.31 L376.82,395.31 L377.04,393.31 L377.26,391.32 L377.48,389.32 L377.70,387.32 L377.93,385.32 L378.15,383.33 L378.38,381.33 L378.61,379.33 L378.85,377.34 L379.08,375.34 L379.32,373.34 L379.57,371.35 L379.81,369.35 L380.07,367.36 L380.32,365.37 L380.58,363.37 L380.85,361.38 L381.12,359.39 L381.39,357.40 L381.67,355.41 L381.96,353.42 L382.25,351.43 L382.55,349.44 L382.85,347.45 L383.16,345.47 L383.48,343.48 L383.80,341.50 L384.14,339.52 L384.50,337.54 L384.88,335.57 L385.29,333.60 L385.73,331.64 L386.21,329.68 L386.73,327.74 L387.29,325.81 L387.89,323.89 L388.51,321.98 L389.10,320.06 L389.64,318.12 L390.35,316.24 L391.50,314.61 L393.30,313.82 L395.09,314.61 L396.24,316.24 L396.93,318.13 L397.43,320.07 L397.95,322.02 L398.46,323.96 L398.95,325.91 L399.38,327.87 L399.77,329.84 L400.14,331.82 L400.48,333.80 L400.82,335.78 L401.15,337.77 L401.49,339.75 L401.82,341.73 L402.15,343.71 L402.47,345.70 L402.79,347.68 L403.10,349.67 L403.40,351.65 L403.70,353.64 L403.99,355.63 L404.28,357.62 L404.55,359.61 L404.83,361.60 L405.09,363.60 L405.36,365.59 L405.61,367.58 L405.87,369.58 L406.11,371.57 L406.36,373.57 L406.60,375.56 L406.83,377.56 L407.07,379.56 L407.30,381.55 L407.53,383.55 L407.75,385.55 L407.98,387.54 L408.20,389.54 L408.42,391.54 L408.64,393.54 L408.86,395.54 L409.08,397.53 L409.30,399.53 L409.52,401.53 L409.73,403.53 L409.95,405.53 L410.18,407.52 L410.40,409.52 L410.62,411.52 L410.85,413.52 L411.08,415.51 L411.31,417.51 L411.54,419.51 L411.78,421.50 L412.02,423.50 L412.26,425.49 L412.51,427.49 L412.76,429.48 L413.02,431.48 L413.28,433.47 L413.55,435.46 L413.83,437.45 L414.11,439.44 L414.41,441.43 L414.71,443.42 L415.02,445.40 L415.35,447.39 L415.69,449.37 L416.05,451.35 L416.42,453.32 L416.80,455.29 L417.21,457.26 L417.63,459.23 L418.07,461.19 L418.54,463.15 L419.02,465.10 L419.53,467.04 L420.07,468.98 L420.68,470.89 L421.39,472.77 L422.26,474.59 L423.29,476.31 L424.44,477.95 L425.64,479.57 L426.82,481.20 L427.90,482.89 L428.89,484.64 L429.91,486.37 L431.09,488.00 L432.61,489.30 L434.55,489.64 L436.51,489.16 L438.48,488.82 L440.34,489.49 L441.76,490.90 L442.87,492.57 L443.77,494.37 L444.50,496.24 L445.16,498.14 L445.81,500.04 L446.56,501.91 L447.46,503.70 L448.58,505.37 L450.00,506.79 L451.88,507.28 L453.63,506.32 L455.09,504.95 L456.49,503.51 L457.87,502.05 L459.19,500.53 L460.41,498.94 L461.61,497.32 L462.95,495.82 L464.77,495.17 L466.44,496.25 L467.85,497.68 L469.13,499.23 L470.17,500.95 L471.07,502.75 L471.98,504.54 L473.13,506.18 L474.77,507.31 L476.74,507.63 L478.75,507.65 L480.76,507.65 L482.77,507.66 L484.78,507.66 L486.79,507.67 L488.80,507.67 L490.81,507.68 L492.82,507.68 L494.83,507.68 L496.84,507.69 L498.85,507.69 L500.86,507.69 L502.87,507.69 L504.88,507.70 L506.89,507.70 L508.90,507.70 L510.91,507.70 L512.92,507.70 L514.93,507.70 L516.94,507.71 L518.95,507.71 L520.96,507.71 L522.97,507.71 L524.98,507.71 L526.99,507.71 L529.00,507.71 L531.01,507.71 L533.02,507.71 L535.03,507.71 L537.04,507.71 L539.06,507.71 L541.07,507.71 L543.08,507.71 L545.09,507.71 L547.10,507.71 L549.11,507.71 L551.12,507.71 L553.13,507.71 L555.14,507.71 L557.15,507.71 L559.16,507.71 L561.17,507.71 L563.18,507.71 L565.19,507.71 L567.20,507.70 L569.21,507.70 L571.22,507.70 L573.23,507.70 L575.24,507.70 L577.25,507.70 L579.26,507.70 L581.27,507.70 L583.28,507.70 L585.29,507.70 L587.30,507.70 L589.31,507.70 L591.32,507.69 L593.33,507.69 L595.34,507.69 L597.35,507.69 L599.36,507.69 L601.37,507.69 L603.38,507.69 L605.39,507.69 L607.40,507.69 L609.41,507.69 L611.42,507.69 L613.43,507.69 L615.44,507.69 L617.45,507.69 L619.46,507.69 L621.47,507.69 L623.48,507.69 L625.49,507.69 L627.50,507.69 L629.51,507.70 L631.52,507.70 L633.53,507.70 L635.54,507.70 L637.55,507.70 L639.56,507.70 L641.57,507.70 L643.58,507.71 L645.59,507.71 L647.60,507.71 L649.61,507.71"/>
</g>
</g>
<line x1="117.4" y1="70.5" x2="140.8" y2="70.5" stroke="#000" stroke-width="3.4" stroke-dasharray="3.5 3.1"/><line x1="117.4" y1="93.9" x2="144.4" y2="93.9" stroke="#0000ff" stroke-width="3.6"/><line x1="117.4" y1="118.0" x2="144.4" y2="118.0" stroke="#ff0000" stroke-width="3.6"/>
<line x1="117.4" y1="349.0" x2="140.8" y2="349.0" stroke="#000" stroke-width="3.4" stroke-dasharray="3.5 3.1"/><line x1="117.4" y1="372.3" x2="144.4" y2="372.3" stroke="#0000ff" stroke-width="3.6"/><line x1="117.4" y1="396.7" x2="144.4" y2="396.7" stroke="#ff0000" stroke-width="3.6"/>
<g font-family="Liberation Sans, sans-serif" fill="#000">
<text x="0" y="0" font-weight="bold" font-size="30" transform="translate(0.9,22.8) scale(0.9,1)">a</text><text x="0" y="0" font-weight="bold" font-size="27.4" transform="translate(62.2,22.4) scale(0.975,1)">DEER data and fits</text><text x="329.3" y="22.6" font-weight="bold" font-size="29.5">b</text><text x="383.1" y="22.3" font-weight="bold" font-size="26.8">Distance distribution</text><text x="62" y="51.3" font-weight="bold" font-size="20">Double BSL CaM</text><text x="146" y="74.9" font-size="15.4">Data</text><text x="146" y="99" font-size="15.5">ApoCaM Tikhonov Fit</text><text x="146" y="123" font-size="15.5">CaCaM Tikhonov Fit</text><text x="0" y="0" font-weight="bold" font-size="22.3" transform="translate(31,211.7) rotate(-90)">Echo Amplitude</text><text x="0" y="0" font-weight="bold" font-size="22.4" transform="translate(352,185.7) rotate(-90)">Distribution</text><text x="39.3" y="269.7" class="tk1" text-anchor="middle">0</text><text x="97.3" y="269.7" class="tk1" text-anchor="middle"></text><text x="155.3" y="269.7" class="tk1" text-anchor="middle">2</text><text x="213.3" y="269.7" class="tk1" text-anchor="middle">3</text><text x="271.3" y="269.7" class="tk1" text-anchor="middle">4</text><text x="329.3" y="269.7" class="tk1" text-anchor="middle">5</text><path d="M100.5,249.9 L100.5,269.7 L96.8,269.7 L96.8,255.7 L92.1,257.8 L92.1,254.2 Q95.5,252.5 97.4,249.9 Z"/><text x="361.9" y="269.7" class="tk1" text-anchor="middle"></text><text x="384.2" y="269.7" class="tk1" text-anchor="middle">2</text><text x="428.7" y="269.7" class="tk1" text-anchor="middle">3</text><text x="473.3" y="269.7" class="tk1" text-anchor="middle">4</text><text x="517.8" y="269.7" class="tk1" text-anchor="middle">5</text><text x="562.4" y="269.7" class="tk1" text-anchor="middle">6</text><text x="606.9" y="269.7" class="tk1" text-anchor="middle">7</text><text x="651.5" y="269.7" class="tk1" text-anchor="middle">8</text><text x="0.8" y="306.3" font-weight="bold" font-size="29.5">c</text><text x="68.8" y="332.2" font-weight="bold" font-size="20">Double BSL CaM + RyRp</text><text x="146" y="353.6" font-size="15.4">Data</text><text x="146" y="377.6" font-size="15.5">ApoCaM Tikhonov Fit</text><text x="146" y="401.1" font-size="15.5">CaCaM Tikhonov Fit</text><text x="0" y="0" font-weight="bold" font-size="22.3" transform="translate(31,499.7) rotate(-90)">Echo Amplitude</text><text x="328.6" y="306.6" font-weight="bold" font-size="29.5">d</text><text x="0" y="0" font-weight="bold" font-size="22.3" transform="translate(352,481.6) rotate(-90)">Distribution</text><text x="39.5" y="535.3" class="tk2" text-anchor="middle">0</text><text x="97.5" y="535.3" class="tk2" text-anchor="middle"></text><text x="155.5" y="535.3" class="tk2" text-anchor="middle">2</text><text x="213.5" y="535.3" class="tk2" text-anchor="middle">3</text><text x="271.5" y="535.3" class="tk2" text-anchor="middle">4</text><text x="329.5" y="535.3" class="tk2" text-anchor="middle">5</text><path d="M100,517.1 L100,535.4 L96.6,535.4 L96.6,522.6 L92.1,524.6 L92.1,521.3 Q95.3,519.6 96.9,517.1 Z"/><text x="359.9" y="535.3" class="tk2" text-anchor="middle"></text><text x="382.2" y="535.3" class="tk2" text-anchor="middle">2</text><text x="426.8" y="535.3" class="tk2" text-anchor="middle">3</text><text x="471.4" y="535.3" class="tk2" text-anchor="middle">4</text><text x="516.0" y="535.3" class="tk2" text-anchor="middle">5</text><text x="560.6" y="535.3" class="tk2" text-anchor="middle">6</text><text x="605.2" y="535.3" class="tk2" text-anchor="middle">7</text><text x="649.8" y="535.3" class="tk2" text-anchor="middle">8</text><text x="82" y="555" font-weight="bold" font-size="22.4">Evolution Time (µ<tspan dx="0.6">s)</tspan></text><text x="445.5" y="555" font-weight="bold" font-size="22.2">Distance (nm)</text>
</g>
</svg>
</body></html>
